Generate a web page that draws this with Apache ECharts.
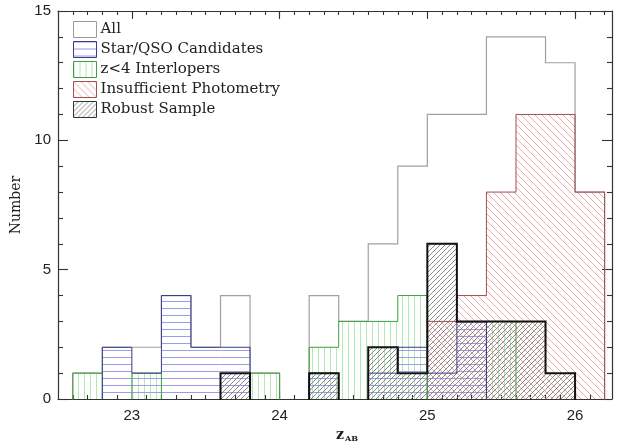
<!DOCTYPE html>
<html>
<head>
<meta charset="utf-8">
<script src="https://cdn.jsdelivr.net/npm/echarts@6/dist/echarts.min.js"></script>
<style>
  html, body { margin: 0; padding: 0; background: #fff; }
  #chart { width: 619px; height: 448px; }
</style>
</head>
<body>
<div id="chart"></div>
<script>
// Histogram of z_AB magnitudes, bins of width 0.2
const binLeft = [22.6, 22.8, 23.0, 23.2, 23.4, 23.6, 23.8, 24.0, 24.2,
                 24.4, 24.6, 24.8, 25.0, 25.2, 25.4, 25.6, 25.8, 26.0];
const binWidth = 0.2;

const countAll       = [1, 2, 2, 4, 2, 4, 1, 0, 4, 3, 6, 9, 11, 11, 14, 14, 13, 8];
const countStarQSO   = [0, 2, 1, 4, 2, 2, 0, 0, 1, 0, 1, 2, 1, 3, 0, 0, 0, 0];
const countLowZ      = [1, 0, 1, 0, 0, 0, 1, 0, 2, 3, 3, 4, 0, 0, 3, 0, 0, 0];
const countInsuff    = [0, 0, 0, 0, 0, 0, 0, 0, 0, 0, 0, 0, 3, 4, 8, 11, 11, 8];
const countRobust    = [0, 0, 0, 0, 0, 1, 0, 0, 1, 0, 2, 1, 6, 3, 3, 3, 1, 0];

const xMajorTicks = [23, 24, 25, 26];
const yMax = 15;

// minor ticks every 0.1 along the magnitude axis
const xMinorTicks = [];
for (let k = 226; k <= 262; k++) xMinorTicks.push(k / 10);

// hatch pattern tiles
function hatch(kind, color, size, width) {
  const c = document.createElement('canvas');
  c.width = size; c.height = size;
  const g = c.getContext('2d');
  g.strokeStyle = color;
  g.lineWidth = width;
  g.beginPath();
  if (kind === 'h') {
    g.moveTo(0, 0.5); g.lineTo(size, 0.5);
  } else if (kind === 'v') {
    g.moveTo(0.5, 0); g.lineTo(0.5, size);
  } else if (kind === 'back') {       // "\" lines
    g.moveTo(0, 0); g.lineTo(size, size);
    g.moveTo(-2, size - 2); g.lineTo(2, size + 2);
    g.moveTo(size - 2, -2); g.lineTo(size + 2, 2);
  } else {                            // "/" lines
    g.moveTo(0, size); g.lineTo(size, 0);
    g.moveTo(-2, 2); g.lineTo(2, -2);
    g.moveTo(size - 2, size + 2); g.lineTo(size + 2, size - 2);
  }
  g.stroke();
  return { image: c, repeat: 'repeat' };
}

const patStar   = hatch('h', '#9c9cea', 7, 1);
const patLowZ   = hatch('v', '#b2e8b2', 6, 1);
const patInsuff = hatch('back', '#f2a8a8', 7, 1);
const patRobust = hatch('fwd', '#777777', 5, 0.85);

function binData(counts) {
  return counts.map((c, i) => [binLeft[i], binLeft[i] + binWidth, c]).filter(d => d[2] > 0);
}

// step outline of a histogram, broken where the count is zero
function outline(counts) {
  const pts = [];
  let i = 0;
  const n = counts.length;
  while (i < n) {
    if (counts[i] === 0) { i++; continue; }
    pts.push([binLeft[i], 0]);
    while (i < n && counts[i] > 0) {
      pts.push([binLeft[i], counts[i]]);
      pts.push([binLeft[i] + binWidth, counts[i]]);
      i++;
    }
    pts.push([binLeft[i - 1] + binWidth, 0]);
    pts.push(['-', '-']);
  }
  return pts;
}

function fillSeries(name, counts, pattern) {
  return {
    name: name,
    type: 'custom',
    xAxisIndex: 0, yAxisIndex: 0,
    z: 2,
    silent: true,
    itemStyle: { color: pattern },
    data: binData(counts),
    renderItem: function (params, api) {
      const tl = api.coord([api.value(0), api.value(2)]);
      const br = api.coord([api.value(1), 0]);
      return {
        type: 'rect',
        shape: { x: tl[0], y: tl[1], width: br[0] - tl[0], height: br[1] - tl[1] },
        style: { fill: pattern, stroke: null }
      };
    }
  };
}

function outlineSeries(name, counts, color, width, z) {
  return {
    name: name,
    type: 'line',
    xAxisIndex: 0, yAxisIndex: 0,
    z: z,
    silent: true,
    symbol: 'none',
    connectNulls: false,
    lineStyle: { color: color, width: width, join: 'miter', cap: 'square' },
    data: outline(counts)
  };
}

const axisColor = '#333';
const labelFont = { fontFamily: 'Liberation Sans', fontSize: 15, color: '#222' };
const serif = 'DejaVu Serif';

function xAxisDef(pos, ticks, len, showLine, labels) {
  return {
    type: 'value', position: pos, min: 22.5, max: 26.25,
    axisLine: { show: showLine, lineStyle: { color: axisColor, width: 1.2 } },
    axisTick: { show: true, inside: true, length: len, customValues: ticks,
                lineStyle: { color: axisColor, width: 1.1 } },
    axisLabel: labels
      ? Object.assign({ show: true, customValues: xMajorTicks, margin: 9 }, labelFont)
      : { show: false },
    splitLine: { show: false }
  };
}

function yAxisDef(pos, labels) {
  return {
    type: 'value', position: pos, min: 0, max: yMax, interval: 5,
    axisLine: { show: true, lineStyle: { color: axisColor, width: 1.2 } },
    axisTick: { show: true, inside: true, length: 10, lineStyle: { color: axisColor, width: 1.1 } },
    minorTick: { show: true, splitNumber: 5, length: 5, lineStyle: { color: axisColor, width: 1.1 } },
    axisLabel: labels ? Object.assign({ show: true, margin: 7 }, labelFont) : { show: false },
    splitLine: { show: false }
  };
}

const xMain = xAxisDef('bottom', xMajorTicks, 8, true, true);
xMain.name = '{z|z}{ab|AB}';
xMain.nameLocation = 'middle';
xMain.nameGap = 29;
xMain.nameTextStyle = {
  padding: [0, 0, 0, 24],
  rich: {
    z: { fontFamily: serif, fontWeight: 'bold', fontSize: 14, color: '#222' },
    ab: { fontFamily: serif, fontWeight: 'bold', fontSize: 8, color: '#222', padding: [7, 0, 0, 1] }
  }
};

const yMain = yAxisDef('left', true);
yMain.name = 'Number';
yMain.nameLocation = 'middle';
yMain.nameGap = 33;
yMain.nameTextStyle = { fontFamily: serif, fontSize: 14, color: '#222' };

const legendNames = ['All', 'Star/QSO Candidates', 'z<4 Interlopers', 'Insufficient Photometry', 'Robust Sample'];

const option = {
  animation: false,
  backgroundColor: '#fff',
  grid: { left: 58, right: 7, top: 11, bottom: 40, containLabel: false },
  xAxis: [
    xMain,
    xAxisDef('bottom', xMinorTicks, 4, false, false),
    xAxisDef('top', xMajorTicks, 8, true, false),
    xAxisDef('top', xMinorTicks, 4, false, false)
  ],
  yAxis: [yMain, yAxisDef('right', false)],
  legend: {
    orient: 'vertical',
    left: 73, top: 21,
    padding: 0,
    itemWidth: 23, itemHeight: 16, itemGap: 3,
    selectedMode: false,
    textStyle: { fontFamily: serif, fontSize: 15, lineHeight: 16, color: '#222', padding: [0, 0, 0, -1] },
    data: [
      { name: legendNames[0], icon: 'rect', itemStyle: { color: '#fff', borderColor: '#9a9a9a', borderWidth: 1 } },
      { name: legendNames[1], icon: 'rect', itemStyle: { color: patStar, borderColor: '#3a3a8a', borderWidth: 1 } },
      { name: legendNames[2], icon: 'rect', itemStyle: { color: patLowZ, borderColor: '#3f9f3f', borderWidth: 1 } },
      { name: legendNames[3], icon: 'rect', itemStyle: { color: patInsuff, borderColor: '#a05050', borderWidth: 1 } },
      { name: legendNames[4], icon: 'rect', itemStyle: { color: patRobust, borderColor: '#333', borderWidth: 1 } }
    ]
  },
  series: [
    fillSeries(legendNames[3], countInsuff, patInsuff),
    fillSeries(legendNames[2], countLowZ, patLowZ),
    fillSeries(legendNames[1], countStarQSO, patStar),
    fillSeries(legendNames[4], countRobust, patRobust),
    outlineSeries(legendNames[0], countAll, '#a0a0a0', 1.2, 3),
    outlineSeries(legendNames[3], countInsuff, '#a05050', 1, 4),
    outlineSeries(legendNames[2], countLowZ, '#3f9f3f', 1, 5),
    outlineSeries(legendNames[1], countStarQSO, '#3a3a8a', 1, 6),
    outlineSeries(legendNames[4], countRobust, '#111', 2, 7)
  ]
};

const chart = echarts.init(document.getElementById('chart'), null, { renderer: 'canvas' });
chart.setOption(option);
</script>
</body>
</html>
